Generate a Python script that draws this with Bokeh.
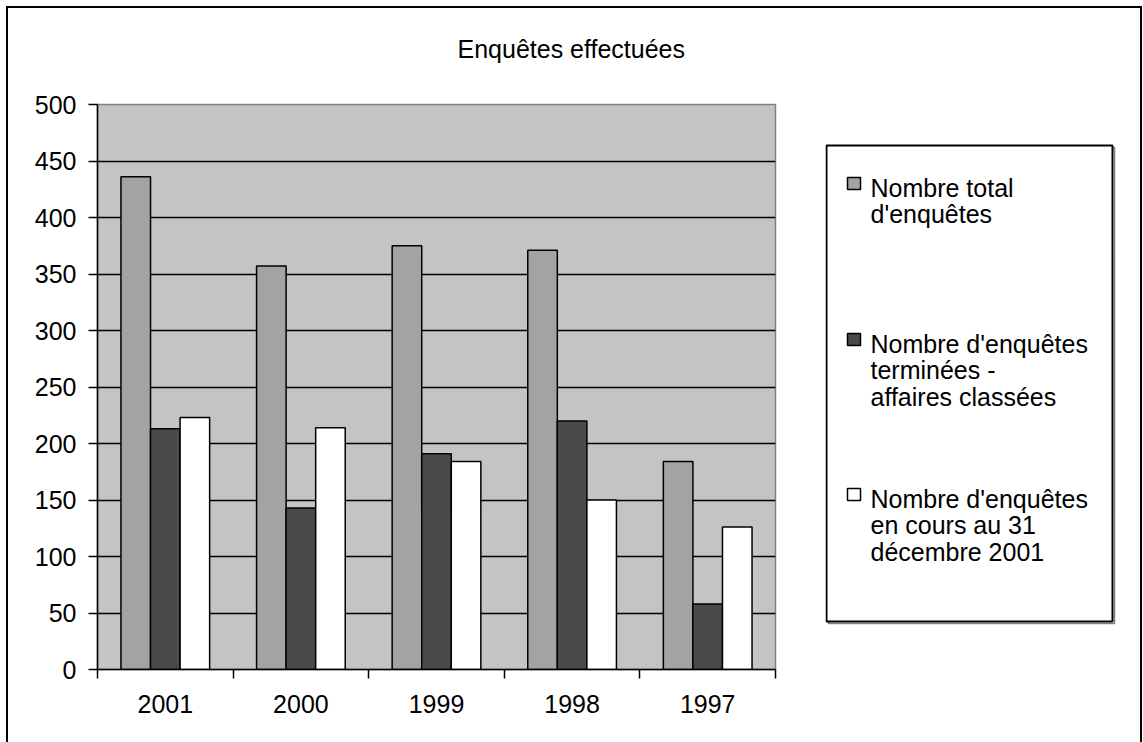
from bokeh.plotting import figure
from bokeh.models import ColumnDataSource, FixedTicker, Range1d, Title
from bokeh.layouts import row
from bokeh.transform import dodge
from bokeh.core.properties import value
from bokeh.embed import file_html
from bokeh.resources import INLINE

# ---------------- data ----------------
years = ["2001", "2000", "1999", "1998", "1997"]
total = [436, 357, 375, 371, 184]
terminees = [213, 143, 191, 220, 58]
en_cours = [223, 214, 184, 150, 126]
y_ticks = [0, 50, 100, 150, 200, 250, 300, 350, 400, 450, 500]
title_text = "Enquêtes effectuées"
legend_lines = [
    ["Nombre total", "d'enquêtes"],
    ["Nombre d'enquêtes", "terminées -", "affaires classées"],
    ["Nombre d'enquêtes", "en cours au 31", "décembre 2001"],
]
colors = ["#a3a3a3", "#4a4a4a", "#ffffff"]

FONT = "Liberation Sans"
FS = "25px"

xc = [i + 0.5 for i in range(len(years))]
src = ColumnDataSource(dict(x=xc, total=total, term=terminees, cours=en_cours))

# ---------------- main chart ----------------
p = figure(width=817, height=734, output_backend="svg", toolbar_location=None,
           title=None,
           x_range=Range1d(0, len(years)), y_range=Range1d(0, 500),
           min_border_left=89, min_border_right=50, min_border_top=96,
           min_border_bottom=73)
p.background_fill_color = "#c4c4c4"
p.border_fill_color = "white"
p.outline_line_color = "#808080"
p.outline_line_width = 1.5

# spacer (inner) + real title (outer)
p.add_layout(Title(text=" ", standoff=0, text_font=FONT, text_font_size=FS), "above")
p.add_layout(Title(text=title_text, align="left", offset=360, standoff=24,
                   text_font=FONT, text_font_size=FS, text_font_style="normal",
                   text_color="black"), "above")

bw = 0.218
for field, off, col in [("total", -bw, colors[0]), ("term", 0, colors[1]), ("cours", bw, colors[2])]:
    p.vbar(x=dodge("x", off, range=p.x_range), top=field, width=bw, bottom=0,
           source=src, fill_color=col, line_color="black", line_width=1.5)

p.xgrid.grid_line_color = None
p.ygrid.grid_line_color = "black"
p.ygrid.grid_line_width = 1.3
p.ygrid.ticker = FixedTicker(ticks=y_ticks)

ya = p.yaxis[0]
ya.ticker = FixedTicker(ticks=y_ticks, minor_ticks=[])
ya.axis_line_color = "black"
ya.axis_line_width = 1.5
ya.major_tick_line_color = "black"
ya.major_tick_line_width = 1.5
ya.major_tick_out = 9
ya.major_tick_in = 0
ya.minor_tick_line_color = None
ya.major_label_standoff = 12
ya.major_label_text_font = FONT
ya.major_label_text_font_size = FS
ya.major_label_text_color = "black"

xa = p.xaxis[0]
xa.ticker = FixedTicker(ticks=xc, minor_ticks=list(range(len(years) + 1)))
xa.major_label_overrides = {x: y for x, y in zip(xc, years)}
xa.axis_line_color = "black"
xa.axis_line_width = 1.5
xa.major_tick_line_color = None
xa.major_tick_out = 9
xa.major_tick_in = 0
xa.minor_tick_line_color = "black"
xa.minor_tick_line_width = 1.5
xa.minor_tick_out = 9
xa.minor_tick_in = 0
xa.major_label_standoff = 16
xa.major_label_text_font = FONT
xa.major_label_text_font_size = FS
xa.major_label_text_color = "black"

# ---------------- legend panel (pixel-scaled figure, frame aligned with chart frame) ----------------
LW, LH = 315, 565
lg = figure(width=LW, height=734, output_backend="svg", toolbar_location=None,
            x_range=Range1d(0, LW), y_range=Range1d(0, LH),
            x_axis_location=None, y_axis_location=None,
            min_border_left=0, min_border_right=0,
            min_border_top=96, min_border_bottom=73)
lg.grid.visible = False
lg.outline_line_color = None
lg.background_fill_color = "white"
lg.border_fill_color = "white"

# box (with a light shadow line)
lg.quad(left=[3], right=[289], top=[522], bottom=[46], fill_color=None,
        line_color="#808080", line_width=1.5)
lg.quad(left=[1], right=[287], top=[524], bottom=[48], fill_color="white",
        line_color="black", line_width=2)

sq_centre = [486, 330, 175]
baselines = [[482, 456], [326, 300, 273], [171, 145, 118]]
lg.rect(x=[28.5] * 3, y=sq_centre, width=13, height=12, fill_color=colors,
        line_color="black", line_width=1.5)
tx, ty, tt = [], [], []
for lines, bls in zip(legend_lines, baselines):
    for t, b in zip(lines, bls):
        tx.append(45)
        ty.append(b)
        tt.append(t)
lg.text(x=tx, y=ty, text=tt, text_font=value(FONT), text_font_size=FS,
        text_baseline="alphabetic", text_align="left", text_color="black")

layout = row(p, lg, margin=(6, 0, 0, 6),
             styles={"border-left": "2px solid black",
                     "border-top": "2px solid black",
                     "border-right": "2px solid black"})

open("out.html", "w").write(file_html(layout, INLINE))
